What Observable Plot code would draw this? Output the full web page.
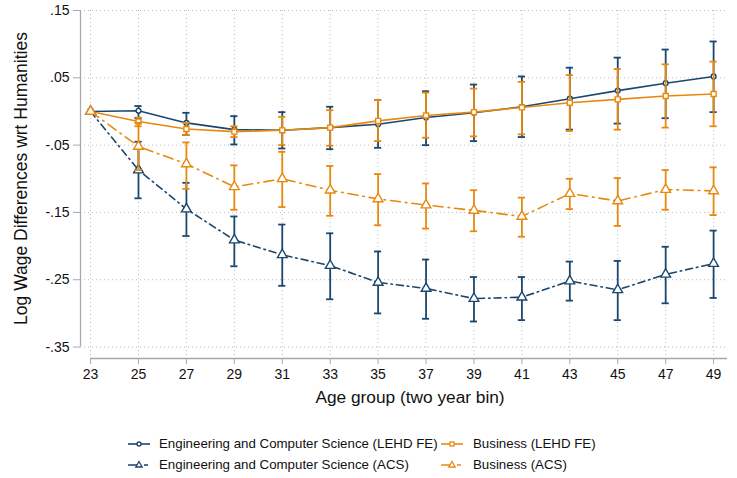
<!DOCTYPE html>
<html>
<head>
<meta charset="utf-8">
<script src="https://cdn.jsdelivr.net/npm/d3@7"></script>
<script src="https://cdn.jsdelivr.net/npm/@observablehq/plot@0.6"></script>
<style>
  body { margin: 0; background: white; font-family: "Liberation Sans", Arial, sans-serif; }
  #wrap { position: relative; width: 737px; height: 478px; }
  #legend { position: absolute; left: 0; top: 420px; width: 737px; height: 58px; }
  .item { position: absolute; display: flex; align-items: center; font-size: 13.3px; color: #111; white-space: nowrap; }
  .item svg { margin-right: 9px; }
</style>
</head>
<body>
<div id="wrap"><div id="chart"></div><div id="legend"></div></div>
<script>
const ages = [23,25,27,29,31,33,35,37,39,41,43,45,47,49];
const yTicks = [0.15, 0.05, -0.05, -0.15, -0.25, -0.35];
const yTickLabels = [".15", ".05", "-.05", "-.15", "-.25", "-.35"];

const engLehd   = [0, 0.001, -0.017, -0.027, -0.028, -0.024, -0.019, -0.009, -0.002, 0.007, 0.019, 0.031, 0.042, 0.052];
const engLehdHi = [null, 0.008, -0.002, -0.007, -0.001, 0.007, 0.017, 0.030, 0.040, 0.052, 0.065, 0.080, 0.092, 0.104];
const engLehdLo = [null, -0.010, -0.035, -0.049, -0.055, -0.056, -0.054, -0.050, -0.044, -0.038, -0.027, -0.018, -0.010, -0.001];

const bizLehd   = [0, -0.015, -0.026, -0.030, -0.028, -0.024, -0.014, -0.006, -0.001, 0.006, 0.013, 0.018, 0.023, 0.026];
const bizLehdHi = [null, -0.009, -0.017, -0.022, -0.008, 0.002, 0.017, 0.028, 0.034, 0.044, 0.054, 0.063, 0.070, 0.074];
const bizLehdLo = [null, -0.022, -0.035, -0.038, -0.050, -0.051, -0.044, -0.039, -0.037, -0.034, -0.029, -0.027, -0.024, -0.022];

const engAcs   = [0, -0.087, -0.145, -0.191, -0.213, -0.229, -0.254, -0.263, -0.278, -0.276, -0.252, -0.265, -0.242, -0.226];
const engAcsHi = [null, -0.045, -0.106, -0.156, -0.168, -0.181, -0.208, -0.220, -0.246, -0.246, -0.223, -0.222, -0.201, -0.177];
const engAcsLo = [null, -0.129, -0.185, -0.230, -0.259, -0.279, -0.300, -0.308, -0.312, -0.310, -0.281, -0.310, -0.285, -0.277];

const bizAcs   = [0, -0.052, -0.078, -0.112, -0.100, -0.117, -0.130, -0.139, -0.147, -0.156, -0.122, -0.133, -0.116, -0.118];
const bizAcsHi = [null, -0.017, -0.046, -0.080, -0.060, -0.081, -0.093, -0.107, -0.117, -0.128, -0.100, -0.099, -0.087, -0.083];
const bizAcsLo = [null, -0.087, -0.115, -0.146, -0.142, -0.155, -0.169, -0.174, -0.178, -0.186, -0.145, -0.170, -0.146, -0.154];

const NAVY = "#1a476f", ORANGE = "#e8890f";

const seriesDefs = [
  {name: "Engineering and Computer Science (LEHD FE)", v: engLehd, hi: engLehdHi, lo: engLehdLo, color: NAVY, dash: null, symbol: "circle", r: 2.4},
  {name: "Engineering and Computer Science (ACS)", v: engAcs, hi: engAcsHi, lo: engAcsLo, color: NAVY, dash: "7,4,1.5,4", symbol: "triangle", r: 3.6},
  {name: "Business (LEHD FE)", v: bizLehd, hi: bizLehdHi, lo: bizLehdLo, color: ORANGE, dash: null, symbol: "square", r: 2.8},
  {name: "Business (ACS)", v: bizAcs, hi: bizAcsHi, lo: bizAcsLo, color: ORANGE, dash: "10,5,1.5,5", symbol: "triangle", r: 3.6}
];

const marks = [
  Plot.gridY(yTicks, {stroke: "#bbb", strokeOpacity: 1, strokeDasharray: "1,3"}),
  Plot.gridX(ages, {stroke: "#bbb", strokeOpacity: 1, strokeDasharray: "1,3"}),
  Plot.ruleX([22.58], {y1: -0.35, y2: 0.15, stroke: "#a8a8a8", strokeWidth: 1.3}),
  Plot.ruleY([-0.367], {x1: 23, x2: 49.58, stroke: "#a8a8a8", strokeWidth: 1.3}),
  Plot.axisY(yTicks, {tickSize: 7, stroke: "#a8a8a8", fill: "#111", tickFormat: (d, i) => yTickLabels[i], fontSize: 14, tickPadding: 4, label: null}),
  Plot.axisX(ages, {tickSize: 6, stroke: "#a8a8a8", fill: "#111", fontSize: 14, tickPadding: 5, label: null}),
  Plot.text(["Log Wage Differences wrt Humanities"], {frameAnchor: "left", dx: -59, dy: -6, rotate: -90, textAnchor: "middle", lineAnchor: "middle", fontSize: 17.5, fill: "#111"}),
  Plot.text(["Age group (two year bin)"], {frameAnchor: "bottom", dx: 6, dy: 44, fontSize: 17.3, fill: "#111"})
];

for (const s of seriesDefs) {
  const rows = ages.map((a, i) => ({age: a, v: s.v[i], hi: s.hi[i], lo: s.lo[i]}));
  const bars = rows.filter(d => d.hi != null);
  marks.push(
    Plot.ruleX(bars, {x: "age", y1: "lo", y2: "hi", stroke: s.color, strokeWidth: 1.8}),
    Plot.ruleY(bars, {y: "hi", x1: d => d.age - 0.15, x2: d => d.age + 0.15, stroke: s.color, strokeWidth: 1.8}),
    Plot.ruleY(bars, {y: "lo", x1: d => d.age - 0.15, x2: d => d.age + 0.15, stroke: s.color, strokeWidth: 1.8}),
    Plot.line(rows, {x: "age", y: "v", stroke: s.color, strokeWidth: 1.6, strokeDasharray: s.dash}),
    Plot.dot(rows, {x: "age", y: "v", symbol: s.symbol, r: s.r, stroke: s.color, strokeWidth: 1.4, fill: "white"})
  );
}

const chart = Plot.plot({
  width: 737,
  height: 420,
  marginLeft: 80,
  marginRight: 10,
  marginTop: 10,
  marginBottom: 62,
  style: {fontFamily: "'Liberation Sans', Arial, sans-serif", background: "white"},
  x: {domain: [22.58, 49.58], axis: null},
  y: {domain: [-0.367, 0.15], axis: null},
  marks
});
document.getElementById("chart").appendChild(chart);

// Legend
const legendPos = [
  {i: 0, left: 128, top: 16},
  {i: 1, left: 128, top: 37},
  {i: 2, left: 441, top: 16},
  {i: 3, left: 441, top: 37}
];
const legend = document.getElementById("legend");
for (const p of legendPos) {
  const s = seriesDefs[p.i];
  const div = document.createElement("div");
  div.className = "item";
  div.style.left = p.left + "px";
  div.style.top = p.top + "px";
  const ns = "http://www.w3.org/2000/svg";
  const svg = document.createElementNS(ns, "svg");
  svg.setAttribute("width", 22); svg.setAttribute("height", 12);
  const line = document.createElementNS(ns, "line");
  line.setAttribute("x1", 0); line.setAttribute("x2", 22);
  line.setAttribute("y1", 6); line.setAttribute("y2", 6);
  line.setAttribute("stroke", s.color); line.setAttribute("stroke-width", 1.6);
  if (s.dash) line.setAttribute("stroke-dasharray", "12,4,4,4");
  svg.appendChild(line);
  let m;
  if (s.symbol === "circle") {
    m = document.createElementNS(ns, "circle");
    m.setAttribute("cx", 11); m.setAttribute("cy", 6); m.setAttribute("r", 2);
  } else if (s.symbol === "square") {
    m = document.createElementNS(ns, "rect");
    m.setAttribute("x", 9); m.setAttribute("y", 4); m.setAttribute("width", 4); m.setAttribute("height", 4);
  } else {
    m = document.createElementNS(ns, "path");
    m.setAttribute("d", "M11,2.5 L14.2,8 L7.8,8 Z");
  }
  m.setAttribute("fill", "white"); m.setAttribute("stroke", s.color); m.setAttribute("stroke-width", 1.3);
  svg.appendChild(m);
  div.appendChild(svg);
  const span = document.createElement("span");
  span.textContent = s.name;
  if (p.i >= 2) span.style.marginLeft = "1px";
  div.appendChild(span);
  legend.appendChild(div);
}
</script>
</body>
</html>
